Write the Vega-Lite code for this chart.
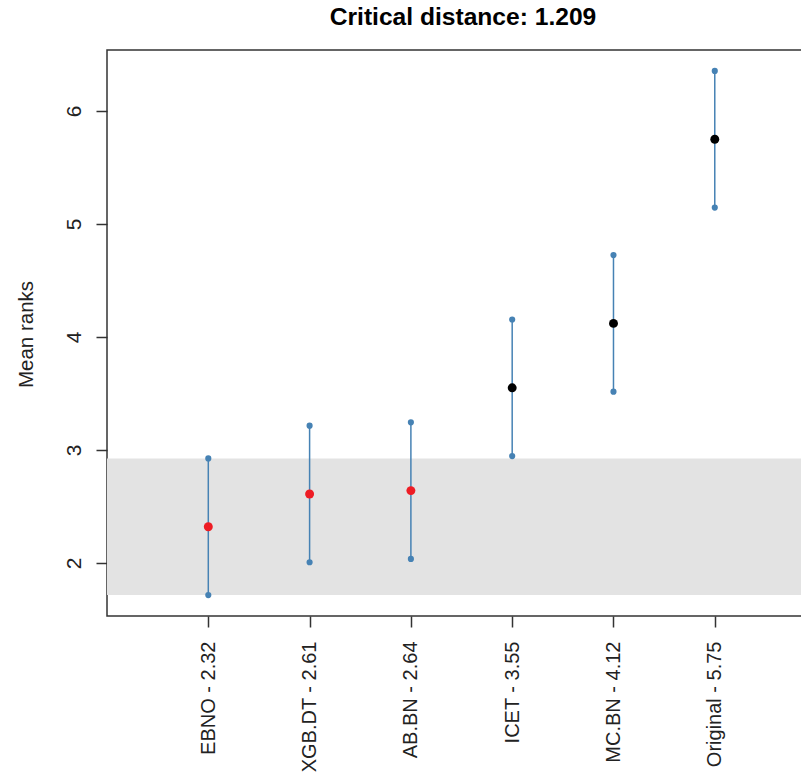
{
  "$schema": "https://vega.github.io/schema/vega-lite/v6.json",
  "width": 696,
  "height": 566,
  "autosize": {"type": "none"},
  "padding": {"left": 107, "top": 50, "right": 0, "bottom": 158},
  "background": "white",
  "title": {"text": "Critical distance: 1.209", "fontSize": 24.6, "font": "Liberation Sans", "fontWeight": "bold", "color": "#000", "anchor": "middle", "dx": 8, "offset": 19},
  "config": {"view": {"stroke": "#333", "strokeWidth": 1.5}, "font": "Liberation Sans"},
  "datasets": {
    "ranks": [
      {"label": "EBNO - 2.32", "mean": 2.32, "lower": 1.7155, "upper": 2.9245, "group": "in"},
      {"label": "XGB.DT - 2.61", "mean": 2.61, "lower": 2.0055, "upper": 3.2145, "group": "in"},
      {"label": "AB.BN - 2.64", "mean": 2.64, "lower": 2.0355, "upper": 3.2445, "group": "in"},
      {"label": "ICET - 3.55", "mean": 3.55, "lower": 2.9455, "upper": 4.1545, "group": "out"},
      {"label": "MC.BN - 4.12", "mean": 4.12, "lower": 3.5155, "upper": 4.7245, "group": "out"},
      {"label": "Original - 5.75", "mean": 5.75, "lower": 5.1455, "upper": 6.3545, "group": "out"}
    ],
    "band": [{"lo": 1.7155, "hi": 2.9245}]
  },
  "layer": [
    {
      "data": {"name": "band"},
      "mark": {"type": "rect", "color": "#e3e3e3"},
      "encoding": {
        "y": {"field": "lo", "type": "quantitative", "scale": {"domain": [1.53, 6.54], "nice": false, "zero": false},
          "axis": {"values": [2, 3, 4, 5, 6], "format": "d", "labelAngle": -90, "labelAlign": "center", "labelBaseline": "alphabetic", "labelPadding": 16, "labelFontSize": 21, "labelColor": "#222", "labelOverlap": false, "tickSize": 11, "tickColor": "#333", "tickWidth": 1.5, "domain": false, "grid": false,
            "title": "Mean ranks", "titleFontSize": 20.5, "titleFontWeight": "normal", "titleColor": "#222", "titleAngle": -90, "titleX": -75, "titleY": 284, "titleAlign": "center", "titleBaseline": "alphabetic"}},
        "y2": {"field": "hi"}
      }
    },
    {
      "data": {"name": "ranks"},
      "layer": [
        {
          "mark": {"type": "rule", "color": "#4682b4", "strokeWidth": 1.5},
          "encoding": {
            "x": {"field": "label", "type": "ordinal", "sort": null, "scale": {"type": "point", "padding": 0.9355, "align": 0.5345},
              "axis": {"labelAngle": -90, "labelAlign": "right", "labelBaseline": "middle", "labelFontSize": 20, "labelColor": "#222", "labelPadding": 14, "labelOverlap": false, "tickSize": 11, "tickColor": "#333", "tickWidth": 1.5, "domain": false, "grid": false, "title": null}},
            "y": {"field": "lower", "type": "quantitative"},
            "y2": {"field": "upper"}
          }
        },
        {
          "mark": {"type": "circle", "color": "#4682b4", "opacity": 1, "size": 38},
          "encoding": {
            "x": {"field": "label", "type": "ordinal", "sort": null},
            "y": {"field": "lower", "type": "quantitative"}
          }
        },
        {
          "mark": {"type": "circle", "color": "#4682b4", "opacity": 1, "size": 38},
          "encoding": {
            "x": {"field": "label", "type": "ordinal", "sort": null},
            "y": {"field": "upper", "type": "quantitative"}
          }
        },
        {
          "mark": {"type": "circle", "opacity": 1, "size": 80},
          "encoding": {
            "x": {"field": "label", "type": "ordinal", "sort": null},
            "y": {"field": "mean", "type": "quantitative"},
            "color": {"field": "group", "type": "nominal", "scale": {"domain": ["in", "out"], "range": ["#ee1c24", "#000000"]}, "legend": null}
          }
        }
      ]
    }
  ]
}
